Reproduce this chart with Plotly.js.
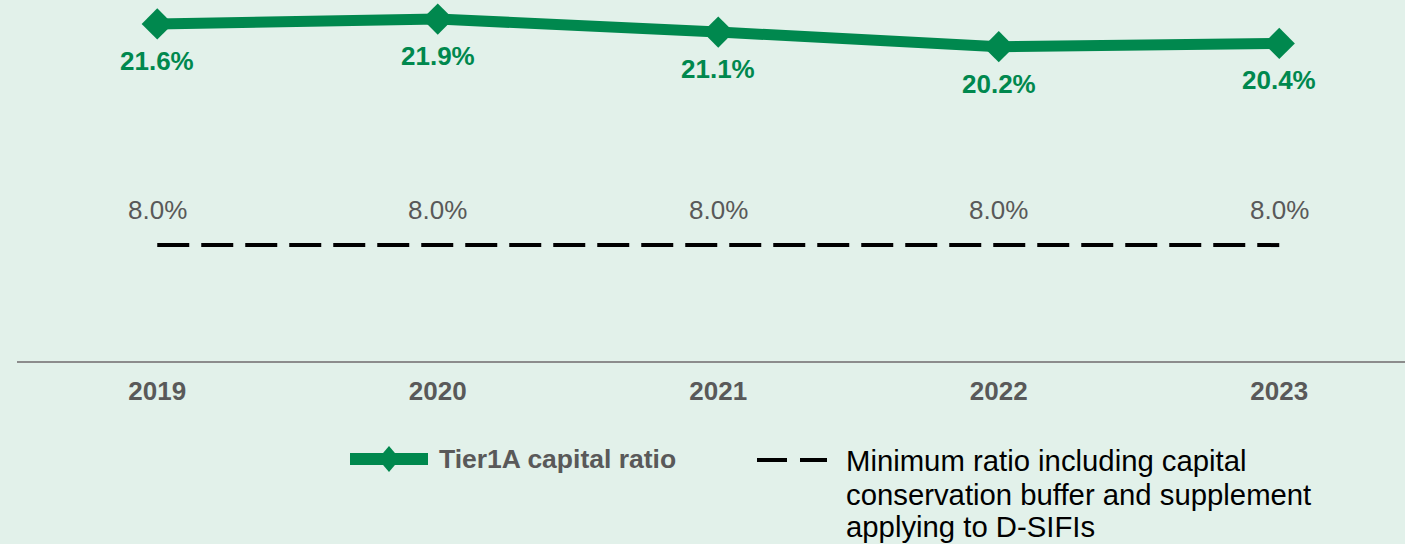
<!DOCTYPE html>
<html><head><meta charset="utf-8">
<script src="https://cdn.plot.ly/plotly-3.0.1.min.js"></script>
<style>html,body{margin:0;padding:0;background:#E2F1EA;}</style>
</head><body>
<div id="chart" style="width:1405px;height:544px;"></div>
<script>
const years = ['2019','2020','2021','2022','2023'];
const tier1a = [21.6, 21.9, 21.1, 20.2, 20.4];
const minimum = [8.0, 8.0, 8.0, 8.0, 8.0];
const tier1aName = 'Tier1A capital ratio';
const minimumName = ['Minimum ratio including capital','conservation buffer and supplement','applying to D-SIFIs'];

const GREEN = '#00884E', GRAY = '#595959', BG = '#E2F1EA';
const FONT = 'Liberation Sans, Arial, sans-serif';
const W = 1405, H = 544, L = 17, T = 0, PB = 361;
const px = x => (x - L) / (W - L);
const py = y => (PB - y) / (PB - T);
const fmt = v => v.toFixed(1) + '%';

const traces = [
  {x: years, y: minimum, type: 'scatter', mode: 'lines', name: minimumName.join('<br>'),
   line: {color: '#000000', width: 4, dash: '32px,12px'}, showlegend: false, hoverinfo: 'skip'},
  {x: years, y: tier1a, type: 'scatter', mode: 'lines+markers', name: tier1aName,
   line: {color: GREEN, width: 11}, marker: {symbol: 'diamond', size: 24, color: GREEN},
   showlegend: false}
];

const annotations = [];
years.forEach((yr, i) => {
  annotations.push({x: i, y: tier1a[i], xref: 'x', yref: 'y', text: '<b>' + fmt(tier1a[i]) + '</b>',
    showarrow: false, yshift: -37, font: {family: FONT, size: 26, color: GREEN}});
  annotations.push({x: i, y: minimum[i], xref: 'x', yref: 'y', text: fmt(minimum[i]),
    showarrow: false, yshift: 35, font: {family: FONT, size: 26, color: GRAY}});
});
// legend texts
annotations.push({x: px(437), y: py(459), xref: 'paper', yref: 'paper', xanchor: 'left', yanchor: 'middle',
  text: '<b>' + tier1aName + '</b>', showarrow: false, font: {family: FONT, size: 26.5, color: GRAY}});
const lineY = [460, 494, 526];
minimumName.forEach((line, k) => {
  annotations.push({x: px(845), y: py(lineY[k]), xref: 'paper', yref: 'paper', xanchor: 'left', yanchor: 'middle',
    align: 'left', text: line, showarrow: false, borderpad: 0, font: {family: FONT, size: 29.3, color: '#000000'}});
});

const shapes = [
  {type: 'line', xref: 'paper', yref: 'paper', x0: px(350), x1: px(428), y0: py(459), y1: py(459),
   line: {color: GREEN, width: 12}},
  {type: 'path', xref: 'paper', yref: 'paper',
   path: `M ${px(378)} ${py(459)} L ${px(389)} ${py(446)} L ${px(400)} ${py(459)} L ${px(389)} ${py(472)} Z`,
   fillcolor: GREEN, line: {width: 0}},
  {type: 'line', xref: 'paper', yref: 'paper', x0: px(757), x1: px(787), y0: py(460), y1: py(460),
   line: {color: '#000000', width: 4}},
  {type: 'line', xref: 'paper', yref: 'paper', x0: px(800), x1: px(827), y0: py(460), y1: py(460),
   line: {color: '#000000', width: 4}}
];

const layout = {
  width: W, height: H,
  paper_bgcolor: BG, plot_bgcolor: BG,
  margin: {l: L, r: 0, t: T, b: H - PB, pad: 0},
  showlegend: false,
  xaxis: {type: 'category', range: [-0.5, -0.5 + (W - L) / 280.5], showgrid: false, zeroline: false,
    showline: true, linecolor: '#8C8C8C', linewidth: 2, ticks: '', ticklabelstandoff: 6,
    tickfont: {family: FONT, size: 26, color: GRAY, weight: 'bold'}},
  yaxis: {range: [0.87, 23.07], visible: false, showgrid: false, zeroline: false},
  annotations: annotations,
  shapes: shapes
};
Plotly.newPlot('chart', traces, layout, {displayModeBar: false, staticPlot: true});
</script>
</body></html>
